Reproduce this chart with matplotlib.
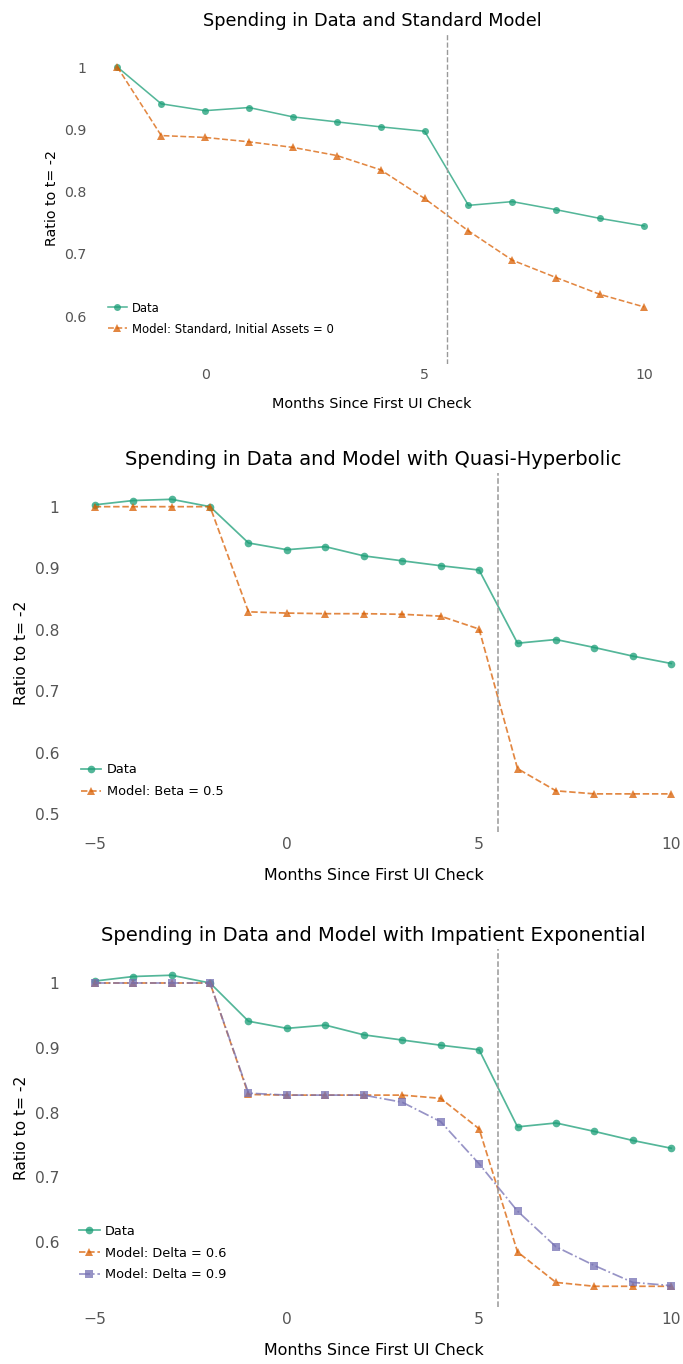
import matplotlib
matplotlib.use("Agg")
import matplotlib.pyplot as plt
from matplotlib.ticker import FuncFormatter, MultipleLocator

# ---- values -------------------------------------------------------------
months = list(range(-5, 11))
data_ratio = [1.003, 1.010, 1.012, 1.000, 0.941, 0.930, 0.935, 0.920,
              0.912, 0.904, 0.897, 0.778, 0.784, 0.771, 0.757, 0.745]

months_std = list(range(-2, 11))
data_ratio_std = data_ratio[3:]
model_standard = [1.000, 0.890, 0.887, 0.880, 0.871, 0.858, 0.835, 0.789,
                  0.737, 0.690, 0.662, 0.635, 0.615]

model_beta_05 = [1.000, 1.000, 1.000, 1.000, 0.829, 0.827, 0.826, 0.826,
                 0.825, 0.822, 0.801, 0.574, 0.538, 0.533, 0.533, 0.533]

model_delta_06 = [1.000, 1.000, 1.000, 1.000, 0.828, 0.827, 0.827, 0.827,
                  0.827, 0.822, 0.775, 0.585, 0.538, 0.532, 0.532, 0.532]
model_delta_09 = [1.000, 1.000, 1.000, 1.000, 0.830, 0.827, 0.827, 0.827,
                  0.816, 0.786, 0.721, 0.648, 0.593, 0.564, 0.538, 0.533]

titles = ["Spending in Data and Standard Model",
          "Spending in Data and Model with Quasi-Hyperbolic",
          "Spending in Data and Model with Impatient Exponential"]
x_label = "Months Since First UI Check"
y_label = "Ratio to t= -2"
check_month = 5.5

GREEN, ORANGE, PURPLE = "#1b9e77", "#d95f02", "#7570b3"

# ---- figure -------------------------------------------------------------
W, H = 683, 1364
fig = plt.figure(figsize=(W / 100, H / 100), dpi=100)
fig.patch.set_facecolor("white")


def axes_px(left, right, top, bottom):
    return fig.add_axes([left / W, 1 - bottom / H, (right - left) / W,
                         (bottom - top) / H])


def fmt(v, _pos):
    return "%g" % round(v, 6)


def draw_panel(ax, s, title, series, xlim, ylim, xticks, leg_anchor):
    for (x, y, label, color, marker, ls) in series:
        size = 6.0 if marker == "^" else 5.5
        ax.plot(x, y, color=color, alpha=0.75, linestyle=ls, linewidth=1.25 * s,
                marker=marker, markersize=size * s, markeredgewidth=0,
                label=label)
    ax.axvline(check_month, color="#999999", linestyle="--", linewidth=1.1 * s)
    ax.set_xlim(*xlim)
    ax.set_ylim(*ylim)
    ax.set_xticks(xticks)
    ax.yaxis.set_major_locator(MultipleLocator(0.1))
    ax.yaxis.set_major_formatter(FuncFormatter(fmt))
    for sp in ax.spines.values():
        sp.set_visible(False)
    ax.tick_params(axis="both", length=0, pad=3.5 * s, labelsize=11.2 * s,
                   labelcolor="#555555")
    ax.set_title(title, fontsize=14 * s, color="black", pad=6 * s)
    ax.set_xlabel(x_label, fontsize=11.4 * s, color="black", labelpad=12 * s)
    ax.set_ylabel(y_label, fontsize=11.2 * s, color="black", labelpad=4 * s)
    ax.legend(loc="lower left", bbox_to_anchor=leg_anchor, frameon=False,
              fontsize=9.25 * s, borderpad=0, borderaxespad=0,
              handlelength=1.6, handletextpad=0.44, labelspacing=0.68)


# panel 1: standard model
ax1 = axes_px(91.0, 652.8, 33.4, 363.6)
draw_panel(ax1, 0.91, titles[0],
           [(months_std, data_ratio_std, "Data", GREEN, "o", "-"),
            (months_std, model_standard, "Model: Standard, Initial Assets = 0",
             ORANGE, "^", "--")],
           (-2.6, 10.2), (0.524, 1.054), [0, 5, 10], (0.0303, 0.085))

# panel 2: quasi-hyperbolic
ax2 = axes_px(64.0, 682.8, 473.1, 831.7)
draw_panel(ax2, 1.0, titles[1],
           [(months, data_ratio, "Data", GREEN, "o", "-"),
            (months, model_beta_05, "Model: Beta = 0.5", ORANGE, "^", "--")],
           (-5.8, 10.3), (0.4715, 1.0546), [-5, 0, 5, 10], (0.0271, 0.0935))

# panel 3: impatient exponential
ax3 = axes_px(64.0, 682.8, 949.3, 1306.7)
draw_panel(ax3, 1.0, titles[2],
           [(months, data_ratio, "Data", GREEN, "o", "-"),
            (months, model_delta_06, "Model: Delta = 0.6", ORANGE, "^", "--"),
            (months, model_delta_09, "Model: Delta = 0.9", PURPLE, "s", "-.")],
           (-5.8, 10.3), (0.5005, 1.052), [-5, 0, 5, 10], (0.0242, 0.071))

fig.savefig("out.png", dpi=100, facecolor="white")
